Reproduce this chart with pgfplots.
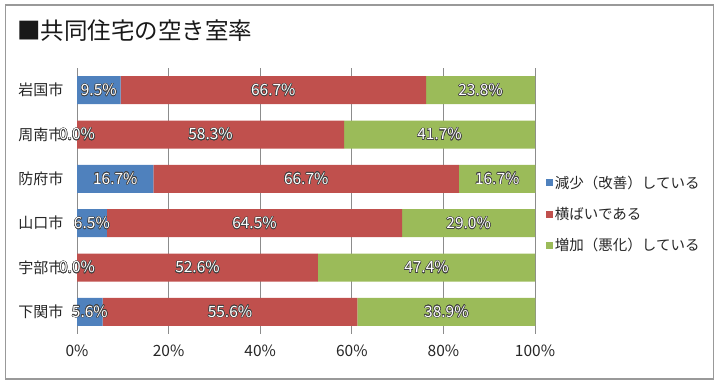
\documentclass[border=0pt]{standalone}
\usepackage{pgfplots}
\pgfplotsset{compat=1.18}
\usepackage{pgfplotstable}
\usepackage{fontspec}
\usepackage{contour}
\contourlength{0.5pt}
\setmainfont{Noto Sans CJK JP}
\definecolor{cblue}{HTML}{4F81BD}
\definecolor{cred}{HTML}{C0504D}
\definecolor{cgreen}{HTML}{9BBB59}
\pgfplotstableread{
y dec flat inc
0 9.5 66.7 23.8
1 0.0 58.3 41.7
2 16.7 66.7 16.7
3 6.5 64.5 29.0
4 0.0 52.6 47.4
5 5.6 55.6 38.9
}\data
\pgfplotsset{
  common/.style={
    at={(77pt,-334pt)}, anchor=south west,
    scale only axis, width=458pt, height=266pt,
    xmin=0, xmax=100, ymin=-0.5, ymax=5.5, y dir=reverse,
    clip=false,
  },
}
\begin{document}
\begin{tikzpicture}
\useasboundingbox (0pt,0pt) rectangle (720pt,-385pt);
\draw[black!40, line width=1.5pt] (5.5pt,-5pt) rectangle (713.5pt,-379pt);
\node[anchor=west, font=\fontsize{23.5}{27}\selectfont, inner sep=0pt, text=black!90] at (17pt,-31pt) {■共同住宅の空き室率};
\begin{axis}[
  common,
  xbar stacked, bar width=28pt,
  xtick={0,20,...,100}, xticklabel={\pgfmathprintnumber{\tick}\%},
  ytick={0,...,5}, yticklabels={岩国市,周南市,防府市,山口市,宇部市,下関市},
  /pgf/number format/assume math mode=true,
  axis line style={draw=none}, major tick length=0pt,
  xmajorgrids, grid style={black!45, line width=0.8pt},
  tick label style={text=black!85},
  xticklabel style={yshift=-7pt, font=\fontsize{15.5}{17}\selectfont},
  yticklabel style={xshift=-10pt, font=\fontsize{15}{17}\selectfont},
  legend style={at={(1.017,0.451)}, anchor=west, draw=none, fill=none,
    font=\fontsize{14.5}{16}\selectfont, row sep=13.5pt, cells={anchor=west}, text=black!85},
  every axis plot post/.append style={legend image code/.code={\fill[##1] (0pt,-3.5pt) rectangle (7pt,3.5pt);}},
]
\addplot[fill=cblue, draw=none] table[x=dec, y=y] {\data};
\addlegendentry{減少（改善）している}
\addplot[fill=cred, draw=none] table[x=flat, y=y] {\data};
\addlegendentry{横ばいである}
\addplot[fill=cgreen, draw=none] table[x=inc, y=y] {\data};
\addlegendentry{増加（悪化）している}
\end{axis}
\begin{axis}[
  common, hide axis,
  nodes near coords={\contour{black!75}{\pgfmathprintnumber[fixed,fixed zerofill,precision=1,assume math mode=true]{\pgfplotspointmeta}\%}},
  every node near coord/.append style={anchor=center, text=white, font=\fontsize{15.5}{17}\selectfont},
  point meta=explicit,
]
\addplot[draw=none, mark=none] table[x expr=\thisrow{dec}/2, y=y, meta=dec] {\data};
\addplot[draw=none, mark=none] table[x expr=\thisrow{dec}+\thisrow{flat}/2, y=y, meta=flat] {\data};
\addplot[draw=none, mark=none] table[x expr=\thisrow{dec}+\thisrow{flat}+\thisrow{inc}/2, y=y, meta=inc] {\data};
\end{axis}
\end{tikzpicture}
\end{document}
